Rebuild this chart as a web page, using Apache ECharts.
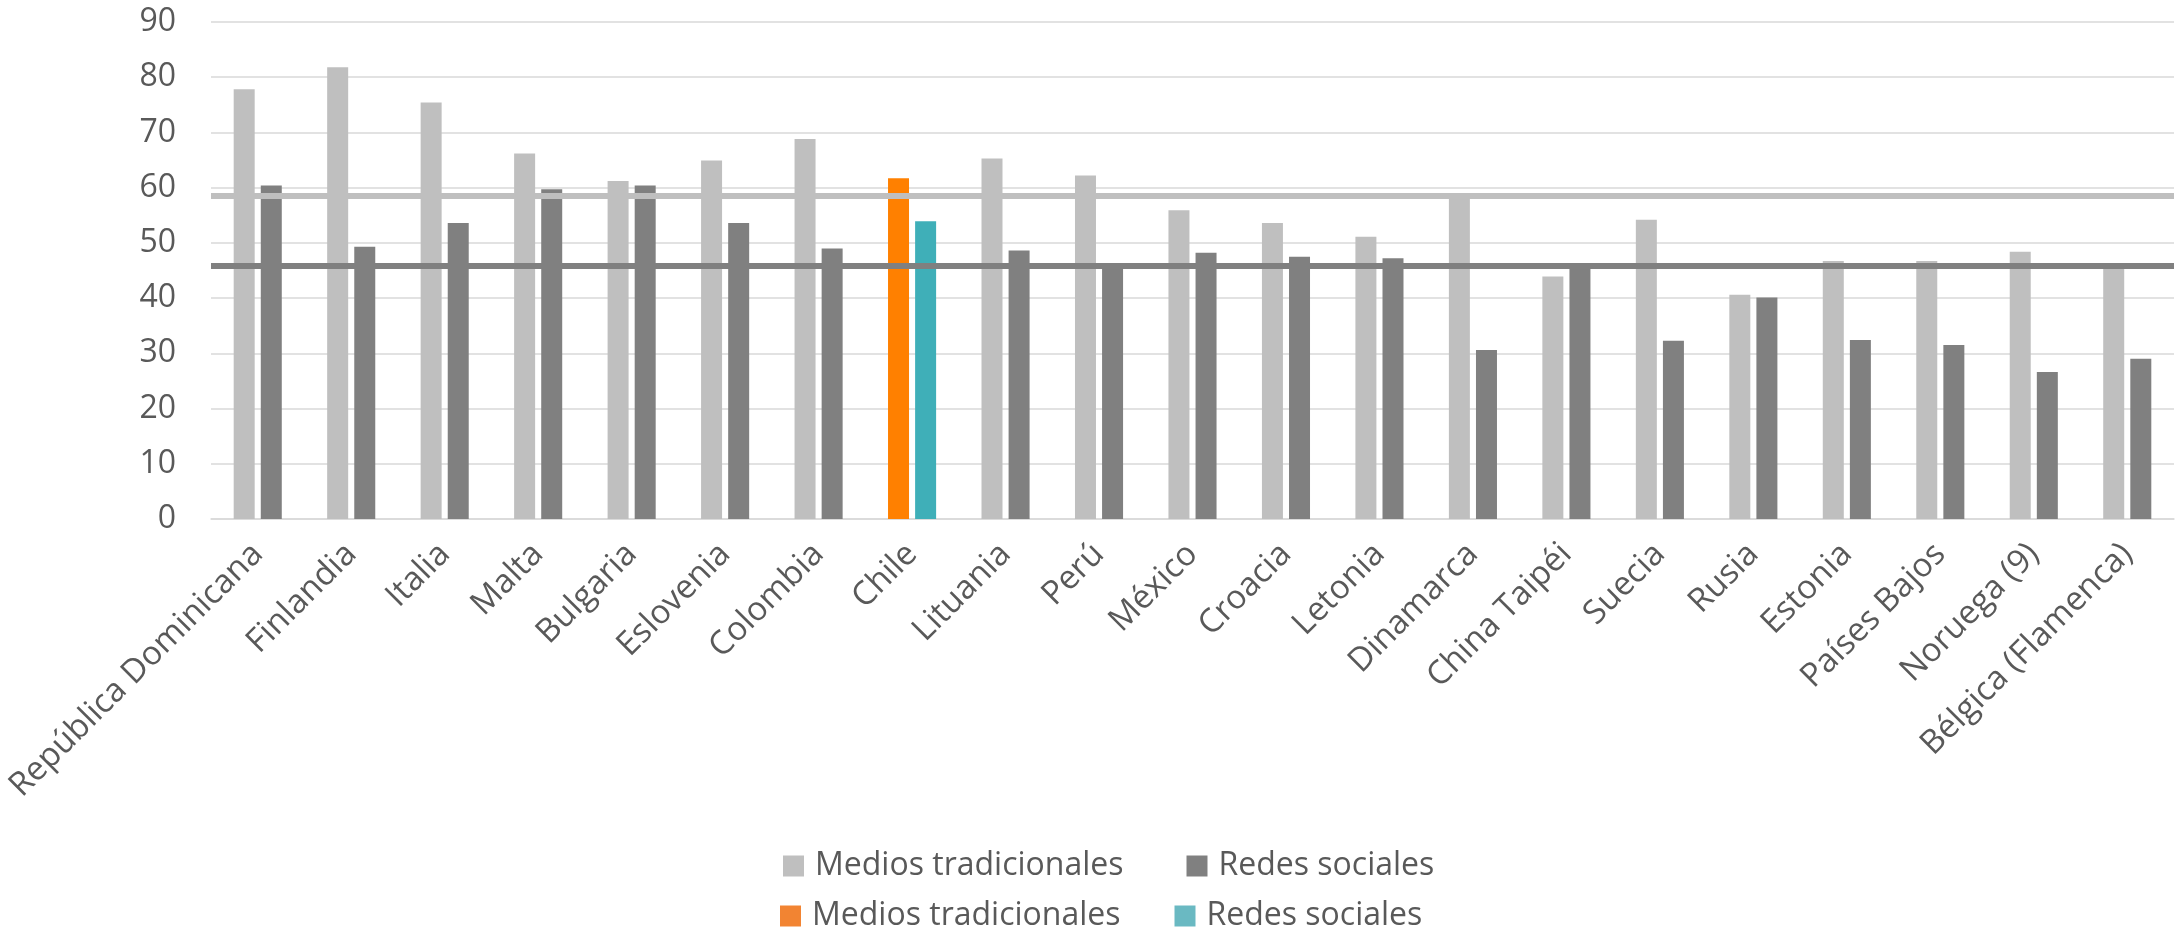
<!DOCTYPE html>
<html>
<head>
<meta charset="utf-8">
<script src="https://cdn.jsdelivr.net/npm/echarts@6/dist/echarts.min.js"></script>
<style>
  html, body { margin: 0; padding: 0; background: #ffffff; }
  #chart { width: 2177px; height: 928px; }
</style>
</head>
<body>
<div id="chart"></div>
<script>
// ---- data ----
const categories = ['República Dominicana', 'Finlandia', 'Italia', 'Malta', 'Bulgaria', 'Eslovenia', 'Colombia', 'Chile', 'Lituania', 'Perú', 'México', 'Croacia', 'Letonia', 'Dinamarca', 'China Taipéi', 'Suecia', 'Rusia', 'Estonia', 'Países Bajos', 'Noruega (9)', 'Bélgica (Flamenca)'];
const mediosTradicionales = [77.8, 81.8, 75.4, 66.2, 61.2, 64.9, 68.8, 61.7, 65.3, 62.2, 55.9, 53.6, 51.1, 58.8, 43.9, 54.2, 40.6, 46.7, 46.7, 48.4, 45.8];
const redesSociales = [60.4, 49.3, 53.6, 59.7, 60.4, 53.6, 49.0, 53.9, 48.6, 45.4, 48.2, 47.5, 47.2, 30.6, 46.0, 32.3, 40.1, 32.4, 31.5, 26.6, 29.0];
const promedioMedios = 58.6;
const promedioRedes = 45.9;
const destacado = 'Chile';
const yTicks = { min: 0, max: 90, interval: 10 };

// ---- styles ----
const FONT = 'Open Sans';
const TXT = '#595959';
const C_MEDIOS = '#BFBFBF', C_REDES = '#808080';
const C_MEDIOS_CL = '#FF8000', C_REDES_CL = '#3FAFB8';
const L_MEDIOS_CL = '#F28432', L_REDES_CL = '#6AB9C2';

function build(values, hiColor) {
  return values.map((v, i) => categories[i] === destacado
    ? { value: v, itemStyle: { color: hiColor } }
    : v);
}

const chart = echarts.init(document.getElementById('chart'), null, { renderer: 'canvas' });
chart.setOption({
  animation: false,
  backgroundColor: '#ffffff',
  textStyle: { fontFamily: FONT },
  grid: { left: 211, right: 3, top: 22, bottom: 409, containLabel: false },
  legend: [
    {
      data: ['Medios tradicionales', 'Redes sociales'],
      left: 783, top: 850, padding: 0,
      icon: 'rect', itemWidth: 21, itemHeight: 21, itemGap: 63,
      textStyle: { fontFamily: FONT, fontSize: 32, color: TXT, padding: [0, 0, 0, 6] },
      selectedMode: false
    },
    {
      data: ['Medios tradicionales (Chile)', 'Redes sociales (Chile)'],
      left: 780, top: 900, padding: 0,
      icon: 'rect', itemWidth: 21, itemHeight: 21, itemGap: 54,
      formatter: n => n.replace(' (Chile)', ''),
      textStyle: { fontFamily: FONT, fontSize: 32, color: TXT, padding: [0, 0, 0, 6] },
      selectedMode: false
    }
  ],
  xAxis: {
    type: 'category',
    data: categories,
    axisLine: { show: true, lineStyle: { color: '#D9D9D9', width: 1.5 } },
    axisTick: { show: false },
    axisLabel: { interval: 0, rotate: 45, margin: 30, fontFamily: FONT, fontSize: 33, color: TXT }
  },
  yAxis: {
    type: 'value',
    min: yTicks.min, max: yTicks.max, interval: yTicks.interval,
    axisLine: { show: false },
    axisTick: { show: false },
    axisLabel: { margin: 35, fontFamily: FONT, fontSize: 32, color: TXT },
    splitLine: { lineStyle: { color: '#D9D9D9', width: 1.5 } }
  },
  series: [
    {
      name: 'Medios tradicionales', type: 'bar',
      barWidth: 21, barGap: '29%',
      itemStyle: { color: C_MEDIOS },
      data: build(mediosTradicionales, C_MEDIOS_CL)
    },
    {
      name: 'Redes sociales', type: 'bar',
      barWidth: 21, barGap: '29%',
      itemStyle: { color: C_REDES },
      data: build(redesSociales, C_REDES_CL),
      markLine: {
        silent: true, symbol: 'none', z: 5,
        label: { show: false },
        data: [
          { yAxis: promedioMedios, lineStyle: { color: C_MEDIOS, width: 6, type: 'solid' } },
          { yAxis: promedioRedes, lineStyle: { color: C_REDES, width: 6, type: 'solid' } }
        ]
      }
    },
    {
      name: 'Medios tradicionales (Chile)', type: 'line', data: [],
      itemStyle: { color: L_MEDIOS_CL }, lineStyle: { color: L_MEDIOS_CL }
    },
    {
      name: 'Redes sociales (Chile)', type: 'line', data: [],
      itemStyle: { color: L_REDES_CL }, lineStyle: { color: L_REDES_CL }
    }
  ]
});
</script>
</body>
</html>
